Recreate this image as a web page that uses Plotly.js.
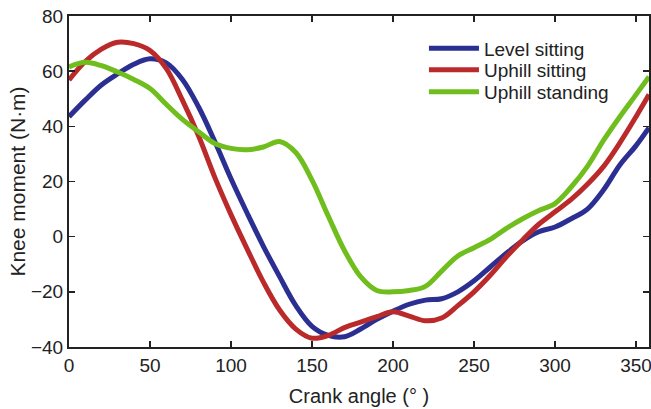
<!DOCTYPE html>
<html>
<head>
<meta charset="utf-8">
<script src="https://cdn.plot.ly/plotly-3.0.1.min.js"></script>
<style>html,body{margin:0;padding:0;background:#fff;}#chart{width:651px;height:409px;}</style>
</head>
<body>
<div id="chart"></div>
<script>
const angle = [0,10,20,30,40,50,60,70,80,90,100,110,120,130,140,150,160,170,180,190,200,210,220,230,240,250,260,270,280,290,300,310,320,330,340,350,358];
const levelSitting = [43.5,49.5,55,59,62.5,64.5,63,57,47,34.5,21,8.5,-3.5,-14.5,-25,-32.5,-35.8,-36.3,-33.5,-30,-27,-24.5,-23,-22.5,-20,-16,-11,-6,-1.5,1.8,3.5,6.5,10,17,26,33,39.5];
const uphillSitting = [56.8,63.5,68,70.5,70,67.5,61,49.5,36.5,21.5,8,-4.5,-16.5,-26.6,-33.5,-36.8,-35.8,-33,-31,-29,-27.2,-28.8,-30.5,-29.5,-25,-20,-14,-7.3,-1.2,4.5,9,13.5,19,25.5,34,43.5,51.5];
const uphillStanding = [61.5,63.2,62,59.7,57,53.7,48,42.5,38,33.8,32,31.5,32.5,34.5,30.5,20.5,7.5,-5,-14.5,-19.5,-20,-19.5,-18,-12.5,-7,-4,-1,3,6.5,9.5,12,18,25.5,35,43.5,51.5,58];
const seriesNames = ["Level sitting","Uphill sitting","Uphill standing"];
const xTicks = [0,50,100,150,200,250,300,350];
const yTicks = [-40,-20,0,20,40,60,80];

const colors = ["#2b2f91","#bb2a2a","#6fbe1e"];
const legendIds = ["legend","legend2","legend3"];
const ys = [levelSitting, uphillSitting, uphillStanding];
const traces = ys.map((y,i)=>({
  x: angle, y: y, type:"scatter", mode:"lines", name: seriesNames[i], legend: legendIds[i],
  line:{color:colors[i], width:5, shape:"spline", smoothing:1}
}));

const fam = "Liberation Sans, Arial, sans-serif";
const tickFont = {family:fam, size:19, color:"#222"};
const titleFont = {family:fam, size:20, color:"#222"};
const legFont = {family:fam, size:19, color:"#222"};
const legendRows = [0.902, 0.837, 0.771];
const mkLegend = (yy)=>({x:0.612, y:yy, xanchor:"left", yanchor:"middle", bgcolor:"rgba(0,0,0,0)", font:legFont, itemwidth:50});
const layout = {
  width:651, height:409,
  margin:{l:69, r:2, t:16, b:62},
  paper_bgcolor:"#fff", plot_bgcolor:"#fff",
  font: tickFont,
  showlegend:true,
  legend: mkLegend(legendRows[0]),
  legend2: mkLegend(legendRows[1]),
  legend3: mkLegend(legendRows[2]),
  xaxis:{range:[0,358], tickvals:xTicks, ticks:"inside", ticklen:6, tickwidth:1.5, tickcolor:"#222",
         showline:true, linecolor:"#222", linewidth:2, mirror:"ticks", showgrid:false, zeroline:false,
         ticklabeloverflow:"allow",
         tickfont:tickFont, title:{text:"Crank angle (° )", font:titleFont, standoff:14}},
  yaxis:{range:[-40,80], tickvals:yTicks, ticks:"inside", ticklen:6, tickwidth:1.5, tickcolor:"#222",
         showline:true, linecolor:"#222", linewidth:2, mirror:"ticks", showgrid:false, zeroline:false,
         tickfont:tickFont, title:{text:"Knee moment (N·m)", font:{family:fam, size:21, color:"#222"}, standoff:0}}
};
Plotly.newPlot("chart", traces, layout, {displayModeBar:false, staticPlot:true});
</script>
</body>
</html>
